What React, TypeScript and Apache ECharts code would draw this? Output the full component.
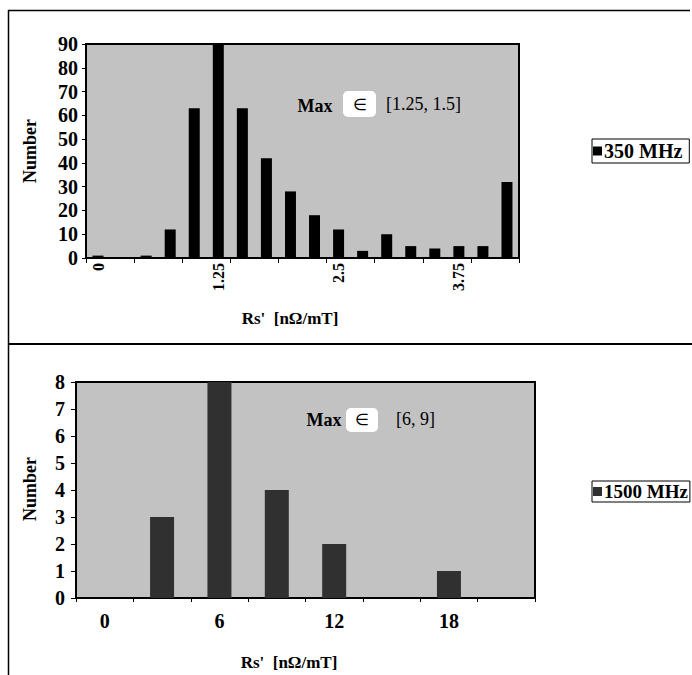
import React, { useEffect, useRef } from 'react';
import * as echarts from 'echarts';

// ---- data ----
const topCategories = ['0', '0.25', '0.5', '0.75', '1', '1.25', '1.5', '1.75', '2', '2.25', '2.5', '2.75', '3', '3.25', '3.5', '3.75', '4', '4.25'];
const topValues = [1, 0, 1, 12, 63, 90, 63, 42, 28, 18, 12, 3, 10, 5, 4, 5, 5, 32];
const topSeriesName = '350 MHz';

const bottomCategories = ['0', '3', '6', '9', '12', '15', '18', '21'];
const bottomValues = [0, 3, 8, 4, 2, 0, 1, 0];
const bottomSeriesName = '1500 MHz';

const axisTitleX = "Rs'  [nΩ/mT]";
const axisTitleY = 'Number';
const topNote = ['Max', '∈', '[1.25, 1.5]'];
const bottomNote = ['Max', '∈', '[6, 9]'];

const FONT = "'Liberation Serif', 'Times New Roman', serif";
const BG = '#c2c2c2';
const BOTTOM_BAR = '#303030';

export default function App() {
  const ref = useRef<HTMLDivElement>(null);

  useEffect(() => {
    if (!ref.current) return;
    const chart = echarts.init(ref.current, undefined, { renderer: 'svg' });

    const txt = (text: string, x: number, y: number, size: number, extra: any = {}) => ({
      type: 'text',
      x,
      y,
      rotation: extra.rotation || 0,
      style: {
        text,
        fill: '#000',
        font: `${extra.weight || 'bold'} ${size}px ${FONT}`,
        align: extra.align || 'center',
        verticalAlign: 'middle',
      },
    });

    const legendBase = {
      orient: 'vertical',
      icon: 'rect',
      itemWidth: 9,
      itemHeight: 9,
      borderColor: '#000',
      borderWidth: 1,
      borderRadius: 0,
    };
    const legendText = (size: number) => ({ fontFamily: FONT, fontSize: size, fontWeight: 'bold', color: '#000', padding: [0, 0, 0, -3] });

    const option: any = {
      animation: false,
      backgroundColor: '#fff',
      textStyle: { fontFamily: FONT, color: '#000' },
      grid: [
        { left: 86, top: 44, width: 433, height: 214, show: true, backgroundColor: BG, borderColor: '#000', borderWidth: 2 },
        { left: 76, top: 382, width: 459, height: 216, show: true, backgroundColor: BG, borderColor: '#000', borderWidth: 2 },
      ],
      legend: [
        { ...legendBase, data: [topSeriesName], left: 592, top: 139, padding: [2, 7, 2, 1], textStyle: legendText(20) },
        { ...legendBase, data: [bottomSeriesName], left: 592, top: 481, padding: [1, 2, 1, 1], textStyle: legendText(19) },
      ],
      xAxis: [
        {
          type: 'category',
          gridIndex: 0,
          data: topCategories,
          axisLine: { lineStyle: { color: '#000', width: 1.5 } },
          axisTick: { show: true, interval: 1, length: 5, lineStyle: { color: '#000' } },
          axisLabel: { interval: 4, rotate: 90, margin: 5, fontFamily: FONT, fontSize: 16, fontWeight: 'bold', color: '#000' },
        },
        {
          type: 'category',
          gridIndex: 1,
          data: bottomCategories,
          axisLine: { lineStyle: { color: '#000', width: 1.5 } },
          axisTick: { show: true, interval: 0, length: 4, lineStyle: { color: '#000' } },
          axisLabel: { interval: 1, margin: 13, fontFamily: FONT, fontSize: 20, fontWeight: 'bold', color: '#000' },
        },
      ],
      yAxis: [
        {
          type: 'value',
          gridIndex: 0,
          min: 0,
          max: 90,
          interval: 10,
          splitLine: { show: false },
          axisLine: { show: true, lineStyle: { color: '#000', width: 1.5 } },
          axisTick: { show: true, length: 4, lineStyle: { color: '#000' } },
          axisLabel: { margin: 8, fontFamily: FONT, fontSize: 20, fontWeight: 'bold', color: '#000' },
        },
        {
          type: 'value',
          gridIndex: 1,
          min: 0,
          max: 8,
          interval: 1,
          splitLine: { show: false },
          axisLine: { show: true, lineStyle: { color: '#000', width: 1.5 } },
          axisTick: { show: true, length: 5, lineStyle: { color: '#000' } },
          axisLabel: { margin: 11, fontFamily: FONT, fontSize: 20, fontWeight: 'bold', color: '#000' },
        },
      ],
      series: [
        {
          name: topSeriesName,
          type: 'bar',
          xAxisIndex: 0,
          yAxisIndex: 0,
          data: topValues,
          barWidth: 11,
          itemStyle: { color: '#000' },
        },
        {
          name: bottomSeriesName,
          type: 'bar',
          xAxisIndex: 1,
          yAxisIndex: 1,
          data: bottomValues,
          barWidth: 24,
          itemStyle: { color: BOTTOM_BAR },
        },
      ],
      graphic: [
        { type: 'line', shape: { x1: 8, y1: 10.5, x2: 690, y2: 10.5 }, style: { stroke: '#000', lineWidth: 1.5 } },
        { type: 'line', shape: { x1: 8.5, y1: 10, x2: 8.5, y2: 675 }, style: { stroke: '#000', lineWidth: 1.5 } },
        { type: 'line', shape: { x1: 8, y1: 344, x2: 692, y2: 344 }, style: { stroke: '#000', lineWidth: 2 } },
        txt(axisTitleY, 30, 151, 18, { rotation: Math.PI / 2 }),
        txt(axisTitleY, 30, 489, 18, { rotation: Math.PI / 2 }),
        txt(axisTitleX, 290, 318, 17),
        txt(axisTitleX, 289, 662, 17),
        txt(topNote[0], 315, 106, 18),
        { type: 'rect', shape: { x: 343, y: 91, width: 33, height: 26, r: 5 }, style: { fill: '#fff' } },
        txt(topNote[1], 360, 104, 16, { weight: 'normal' }),
        txt(topNote[2], 386, 104, 18, { align: 'left', weight: 'normal' }),
        txt(bottomNote[0], 324, 420, 18),
        { type: 'rect', shape: { x: 346, y: 408, width: 32, height: 24, r: 5 }, style: { fill: '#fff' } },
        txt(bottomNote[1], 362, 419, 16, { weight: 'normal' }),
        txt(bottomNote[2], 396, 419, 18, { align: 'left', weight: 'normal' }),
      ],
    };

    chart.setOption(option);
    return () => chart.dispose();
  }, []);

  return <div ref={ref} style={{ position: 'absolute', left: 0, top: 0, width: 692, height: 675 }} />;
}
